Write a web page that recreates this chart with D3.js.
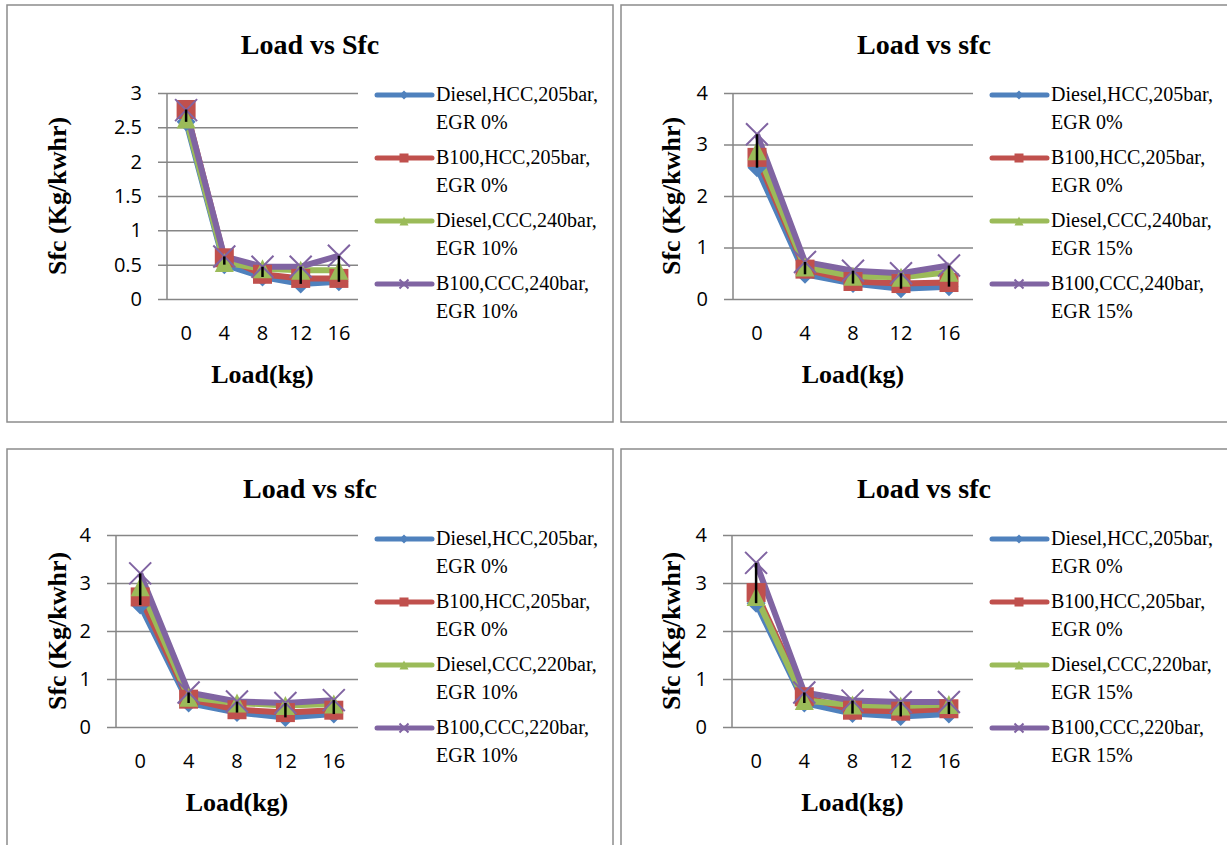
<!DOCTYPE html>
<html>
<head>
<meta charset="utf-8">
<script src="https://cdn.jsdelivr.net/npm/d3@7"></script>
<style>
body{margin:0;background:#fff;}
.tick text{font-family:"Open Sans",sans-serif;font-size:20px;fill:#000;}
</style>
</head>
<body>
<script>
var loads = ["0", "4", "8", "12", "16"];
var titles = ["Load vs Sfc", "Load vs sfc", "Load vs sfc", "Load vs sfc"];
var yTicksSmall = [0, 0.5, 1, 1.5, 2, 2.5, 3];
var yTicksLarge = [0, 1, 2, 3, 4];

// sfc values per panel: diesel HCC, B100 HCC, diesel CCC, B100 CCC
var sfcTopLeft = [
    [2.58, 0.50, 0.32, 0.22, 0.25],
    [2.76, 0.60, 0.36, 0.30, 0.30],
    [2.62, 0.53, 0.44, 0.42, 0.42],
    [2.75, 0.62, 0.47, 0.47, 0.63]
];
var sfcTopRight = [
    [2.55, 0.48, 0.30, 0.20, 0.24],
    [2.75, 0.58, 0.34, 0.30, 0.32],
    [2.88, 0.62, 0.44, 0.42, 0.52],
    [3.20, 0.72, 0.55, 0.50, 0.65]
];
var sfcBottomLeft = [
    [2.54, 0.50, 0.30, 0.20, 0.27],
    [2.71, 0.58, 0.36, 0.30, 0.35],
    [2.92, 0.62, 0.50, 0.45, 0.48],
    [3.20, 0.72, 0.53, 0.50, 0.56]
];
var sfcBottomRight = [
    [2.58, 0.50, 0.28, 0.22, 0.27],
    [2.80, 0.63, 0.35, 0.33, 0.38],
    [2.72, 0.55, 0.46, 0.44, 0.47],
    [3.42, 0.72, 0.55, 0.52, 0.52]
];

var legendTopLeft = [["Diesel,HCC,205bar,", "EGR 0%"], ["B100,HCC,205bar,", "EGR 0%"], ["Diesel,CCC,240bar,", "EGR 10%"], ["B100,CCC,240bar,", "EGR 10%"]];
var legendTopRight = [["Diesel,HCC,205bar,", "EGR 0%"], ["B100,HCC,205bar,", "EGR 0%"], ["Diesel,CCC,240bar,", "EGR 15%"], ["B100,CCC,240bar,", "EGR 15%"]];
var legendBottomLeft = [["Diesel,HCC,205bar,", "EGR 0%"], ["B100,HCC,205bar,", "EGR 0%"], ["Diesel,CCC,220bar,", "EGR 10%"], ["B100,CCC,220bar,", "EGR 10%"]];
var legendBottomRight = [["Diesel,HCC,205bar,", "EGR 0%"], ["B100,HCC,205bar,", "EGR 0%"], ["Diesel,CCC,220bar,", "EGR 15%"], ["B100,CCC,220bar,", "EGR 15%"]];

var colors = ["#4F81BD", "#C0504D", "#9BBB59", "#8064A2"];
var markers = ["diamond", "square", "triangle", "x"];

var svg = d3.select("body").append("svg")
    .attr("width", 1227)
    .attr("height", 845);

var panels = [
    {x: 7, y: 5, w: 606, h: 417, l: 167, r: 358, t: 93, b: 299, yMax: 3, ticks: yTicksSmall, data: sfcTopLeft, legend: legendTopLeft, title: titles[0]},
    {x: 621, y: 5, w: 612, h: 417, l: 733, r: 973, t: 93, b: 299, yMax: 4, ticks: yTicksLarge, data: sfcTopRight, legend: legendTopRight, title: titles[1]},
    {x: 7, y: 449, w: 606, h: 430, l: 116, r: 358, t: 535, b: 727, yMax: 4, ticks: yTicksLarge, data: sfcBottomLeft, legend: legendBottomLeft, title: titles[2]},
    {x: 621, y: 449, w: 612, h: 430, l: 732, r: 973, t: 535, b: 727, yMax: 4, ticks: yTicksLarge, data: sfcBottomRight, legend: legendBottomRight, title: titles[3]}
];

function drawMarker(g, type, cx, cy, size, color) {
    var h = size / 2;
    if (type == "diamond") {
        g.append("path")
            .attr("d", "M" + cx + "," + (cy - h) + "L" + (cx + h) + "," + cy + "L" + cx + "," + (cy + h) + "L" + (cx - h) + "," + cy + "Z")
            .attr("fill", color);
    } else if (type == "square") {
        g.append("rect")
            .attr("x", cx - h).attr("y", cy - h)
            .attr("width", size).attr("height", size)
            .attr("fill", color);
    } else if (type == "triangle") {
        g.append("path")
            .attr("d", "M" + cx + "," + (cy - h) + "L" + (cx + h) + "," + (cy + h) + "L" + (cx - h) + "," + (cy + h) + "Z")
            .attr("fill", color);
    } else {
        g.append("path")
            .attr("d", "M" + (cx - h) + "," + (cy - h) + "L" + (cx + h) + "," + (cy + h) + "M" + (cx + h) + "," + (cy - h) + "L" + (cx - h) + "," + (cy + h))
            .attr("stroke", color)
            .attr("stroke-width", 2)
            .attr("fill", "none");
    }
}

panels.forEach(function(p) {
    var g = svg.append("g");

    // panel frame
    g.append("rect")
        .attr("x", p.x).attr("y", p.y)
        .attr("width", p.w).attr("height", p.h)
        .attr("fill", "#fff")
        .attr("stroke", "#8c8c8c")
        .attr("stroke-width", 1.5);

    g.append("text")
        .attr("x", p.x + 303)
        .attr("y", p.y + 49)
        .attr("text-anchor", "middle")
        .style("font-family", "'Liberation Serif', serif")
        .style("font-weight", "bold")
        .style("font-size", "28px")
        .text(p.title);

    var x = d3.scaleBand()
        .domain(loads)
        .range([p.l, p.r]);

    var y = d3.scaleLinear()
        .domain([0, p.yMax])
        .range([p.b, p.t]);

    var plotW = p.r - p.l;

    // gridlines + y labels
    var yAxis = d3.axisLeft(y)
        .tickValues(p.ticks)
        .tickSize(plotW + 9)
        .tickPadding(16)
        .tickFormat(d3.format(""));

    var ya = g.append("g")
        .attr("transform", "translate(" + p.r + ",0)")
        .call(yAxis);
    ya.select(".domain").remove();
    ya.selectAll(".tick line").attr("stroke", "#868686").attr("stroke-width", 1.5);

    g.append("line")
        .attr("x1", p.l).attr("x2", p.l)
        .attr("y1", p.t).attr("y2", p.b)
        .attr("stroke", "#868686")
        .attr("stroke-width", 1.5);

    var xAxis = d3.axisBottom(x)
        .tickSize(0)
        .tickPadding(27);
    var xa = g.append("g")
        .attr("transform", "translate(0," + p.b + ")")
        .call(xAxis);
    xa.select(".domain").remove();

    g.append("text")
        .attr("x", (p.l + p.r) / 2)
        .attr("y", p.b + 84)
        .attr("text-anchor", "middle")
        .style("font-family", "'Liberation Serif', serif")
        .style("font-weight", "bold")
        .style("font-size", "26px")
        .text("Load(kg)");

    g.append("text")
        .attr("transform", "translate(" + (p.x + 50) + "," + ((p.t + p.b) / 2) + ") rotate(-90)")
        .attr("dy", "0.35em")
        .attr("text-anchor", "middle")
        .style("font-family", "'Liberation Serif', serif")
        .style("font-weight", "bold")
        .style("font-size", "26px")
        .text("Sfc (Kg/kwhr)");

    var cx = function(i) { return x(loads[i]) + x.bandwidth() / 2; };

    var line = d3.line()
        .x(function(d, i) { return cx(i); })
        .y(function(d) { return y(d); });

    p.data.forEach(function(s, k) {
        g.append("path")
            .datum(s)
            .attr("d", line)
            .attr("fill", "none")
            .attr("stroke", colors[k])
            .attr("stroke-width", 6)
            .attr("stroke-linejoin", "round");
    });

    p.data.forEach(function(s, k) {
        s.forEach(function(v, i) {
            drawMarker(g, markers[k], cx(i), y(v), k == 3 ? 22 : 19, colors[k]);
        });
    });

    // high-low lines
    loads.forEach(function(l, i) {
        var vals = p.data.map(function(s) { return s[i]; });
        g.append("line")
            .attr("x1", cx(i)).attr("x2", cx(i))
            .attr("y1", y(d3.max(vals))).attr("y2", y(d3.min(vals)))
            .attr("stroke", "#000")
            .attr("stroke-width", 2.5);
    });

    // legend
    var lx = p.r + 19;
    p.legend.forEach(function(lab, k) {
        var ly = p.y + 90 + k * 63;
        g.append("line")
            .attr("x1", lx).attr("x2", lx + 55)
            .attr("y1", ly).attr("y2", ly)
            .attr("stroke", colors[k])
            .attr("stroke-width", 5)
            .attr("stroke-linecap", "round");
        drawMarker(g, markers[k], lx + 27, ly, 9, colors[k]);
        var t = g.append("text")
            .attr("x", lx + 59)
            .attr("y", ly + 6)
            .style("font-family", "'Liberation Serif', serif")
            .style("font-size", "20px");
        t.append("tspan").attr("x", lx + 59).text(lab[0]);
        t.append("tspan").attr("x", lx + 59).attr("dy", 28).text(lab[1]);
    });
});
</script>
</body>
</html>
